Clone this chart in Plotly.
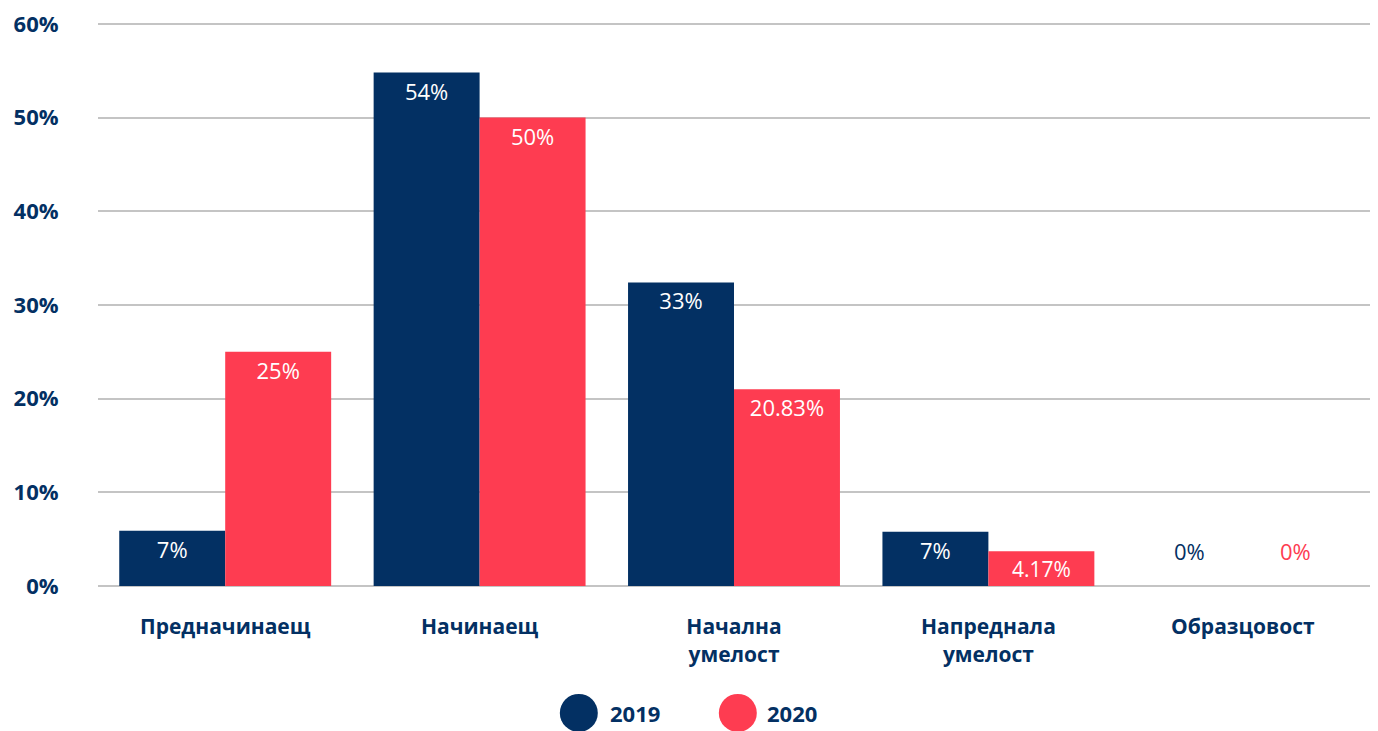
import plotly.graph_objects as go

categories = ["Предначинаещ", "Начинаещ", "Начална<br>умелост", "Напреднала<br>умелост", "Образцовост"]
series_names = ["2019", "2020"]
values_2019 = [5.9, 54.8, 32.4, 5.8, 0]
values_2020 = [25.0, 50.0, 21.0, 3.7, 0]
labels_2019 = ["7%", "54%", "33%", "7%", "0%"]
labels_2020 = ["25%", "50%", "20.83%", "4.17%", "0%"]
y_ticks = [0, 10, 20, 30, 40, 50, 60]
y_tick_labels = ["0%", "10%", "20%", "30%", "40%", "50%", "60%"]

NAVY = "#033063"
RED = "#FE3C51"
FONT = "Open Sans"

fig = go.Figure()
for name, vals, labs, col in [(series_names[0], values_2019, labels_2019, NAVY),
                              (series_names[1], values_2020, labels_2020, RED)]:
    fig.add_trace(go.Bar(
        x=categories, y=vals, name=name, marker_color=col, marker_line_width=0,
        text=[l if v > 0 else "" for v, l in zip(vals, labs)],
        textposition="inside", insidetextanchor="end",
        textfont=dict(family=FONT, size=22, color="white"),
        showlegend=False, cliponaxis=False,
    ))

# zero-value labels shown above the baseline in series colour
for vals, labs, col, shift in [(values_2019, labels_2019, NAVY, -53), (values_2020, labels_2020, RED, 53)]:
    for c, v, l in zip(categories, vals, labs):
        if v == 0:
            fig.add_annotation(x=c, y=v, text=l, showarrow=False, xshift=shift, yshift=35,
                               font=dict(family=FONT, size=22, color=col))

# custom legend with large circles
legend_items = [(series_names[0], NAVY, 0.378, 29), (series_names[1], RED, 0.503, 27)]
for name, col, xp, tx in legend_items:
    fig.add_shape(type="circle", xref="paper", yref="paper", xsizemode="pixel", ysizemode="pixel",
                  xanchor=xp, yanchor=-0.225, x0=-19, x1=19, y0=-19, y1=19,
                  fillcolor=col, line_width=0)
    fig.add_annotation(xref="paper", yref="paper", x=xp, y=-0.225, xshift=tx, text=f"<b>{name}</b>",
                       showarrow=False, xanchor="left", yanchor="middle",
                       font=dict(family=FONT, size=22, color=NAVY))

fig.update_layout(
    width=1378, height=731,
    margin=dict(l=98, r=8, t=17, b=145),
    paper_bgcolor="white", plot_bgcolor="white",
    barmode="group", bargap=0.167, bargroupgap=0,
    font=dict(family=FONT, color=NAVY),
)
fig.update_xaxes(
    showgrid=False, showline=False, zeroline=False,
    ticks="outside", ticklen=22, tickcolor="rgba(0,0,0,0)",
    tickfont=dict(family=FONT, size=21, color=NAVY, weight="bold"),
)
fig.update_yaxes(
    range=[0, 60.2], tickvals=y_ticks, ticktext=y_tick_labels,
    showgrid=True, gridcolor="#C4C4C4", gridwidth=2,
    zeroline=True, zerolinecolor="#C4C4C4", zerolinewidth=2, showline=False,
    ticks="outside", ticklen=34, tickcolor="rgba(0,0,0,0)",
    tickfont=dict(family=FONT, size=22, color=NAVY, weight="bold"),
)

fig.write_html("out.html", config={"displayModeBar": False},
               post_script="document.body.style.margin='0';document.body.style.overflow='hidden';")
